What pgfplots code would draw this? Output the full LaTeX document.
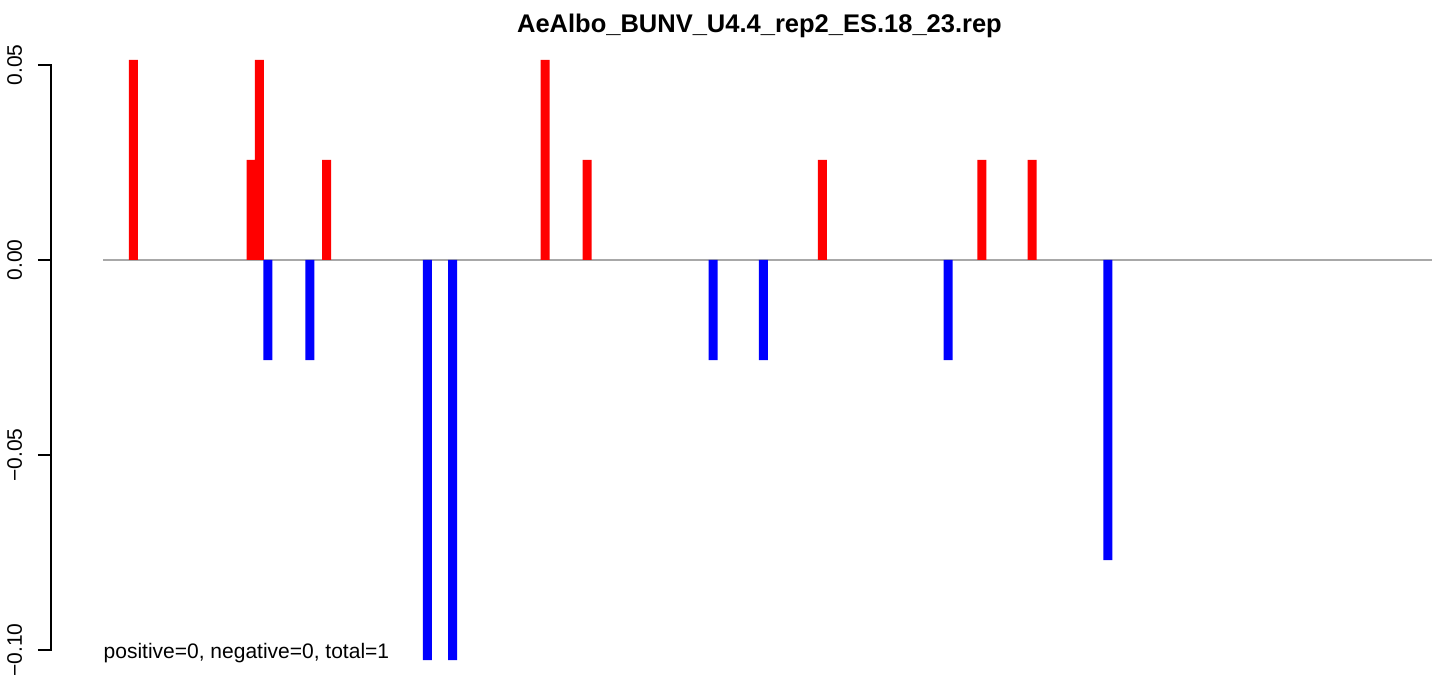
\documentclass[border=0pt]{standalone}
\usepackage{fontspec}
\setmainfont{Liberation Sans}
\usepackage{pgfplots}
\pgfplotsset{compat=1.18}
\definecolor{zerogray}{RGB}{168,168,168}
\begin{document}
\begin{tikzpicture}
\path[use as bounding box] (0,0) rectangle (719.5pt,337.5pt);
\begin{axis}[
  at={(25.5pt,2.75pt)}, anchor=south west,
  scale only axis, width=690.5pt, height=310.05pt,
  xmin=-5.821, xmax=158.595, ymin=-0.105, ymax=0.054,
  axis line style={draw=none},
  xtick=\empty,
  ytick={-0.1,-0.05,0,0.05},
  yticklabels={−0.10,−0.05,0.00,0.05},
  ytick pos=left, tick align=outside, major tick length=6.5pt,
  every tick/.style={black, line width=1pt},
  yticklabel shift=8pt,
  yticklabel style={rotate=90, anchor=base, font=\fontsize{10.5pt}{12pt}\selectfont},
  clip=false,
]
\addplot[zerogray, line width=1pt, forget plot] coordinates {(0.37,0) (158.6,0)};
\addplot[ybar, bar width=4.5pt, bar shift=0pt, fill=red, draw=none] coordinates {
  (4,0.051282) (18,0.025641) (19,0.051282) (27,0.025641) (53,0.051282)
  (58,0.025641) (86,0.025641) (105,0.025641) (111,0.025641)};
\addplot[ybar, bar width=4.5pt, bar shift=0pt, fill=blue, draw=none] coordinates {
  (20,-0.025641) (25,-0.025641) (39,-0.102564) (42,-0.102564) (73,-0.025641)
  (79,-0.025641) (101,-0.025641) (120,-0.076923)};
\draw[line width=1pt, line cap=rect] (axis cs:-5.821,-0.1) -- (axis cs:-5.821,0.05);
\end{axis}
\node[anchor=base, font=\bfseries\fontsize{12.75pt}{14pt}\selectfont, inner sep=0pt] at (379.75pt,321pt) {AeAlbo\_BUNV\_U4.4\_rep2\_ES.18\_23.rep};
\node[anchor=base west, font=\fontsize{10.5pt}{12pt}\selectfont, inner sep=0pt] at (51.65pt,8.35pt) {positive=0, negative=0, total=1};
\end{tikzpicture}
\end{document}
